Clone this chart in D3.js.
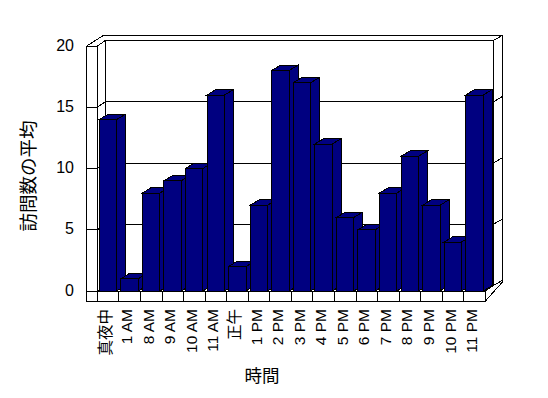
<!DOCTYPE html>
<html>
<head>
<meta charset="utf-8">
<script src="https://cdn.jsdelivr.net/npm/d3@7"></script>
<style>
  body { margin: 0; background: #fff; }
  svg { display: block; }
  text { font-family: "Liberation Sans", "Noto Sans CJK JP", sans-serif; fill: #000; }
</style>
</head>
<body>
<svg id="chart" width="548" height="398"></svg>
<script>
const categories = ["真夜中", "1 AM", "8 AM", "9 AM", "10 AM", "11 AM", "正午", "1 PM", "2 PM", "3 PM",
                    "4 PM", "5 PM", "6 PM", "7 PM", "8 PM", "9 PM", "10 PM", "11 PM"];
const visits = [14, 1, 8, 9, 10, 16, 2, 7, 18, 17, 12, 6, 5, 8, 11, 7, 4, 16];
const yTicks = [0, 5, 10, 15, 20];
const yTitle = "訪問数の平均";
const xTitle = "時間";

const svg = d3.select("#chart");
const navy = "#000080";

// front plane scales
const x = d3.scaleBand().domain(categories).range([97.4, 485.4]);
const y = d3.scaleLinear().domain([0, 20]).range([291, 46]);

// depth offsets
const inner = { dx: 7.7, dy: -5.3 };   // floor / left wall depth
const outer = { dx: 16.6, dy: -10.5 }; // incl. back wall thickness
const barD = { dx: 9, dy: -5.5 };
const xL0 = 86.7, xL1 = 97.4, xR = 485.4, floorBot = 301;

const line = d3.line();
const g = svg.append("g")
    .attr("fill", "none")
    .attr("stroke", "#000")
    .attr("shape-rendering", "crispEdges");

// outer silhouette of the walls and floor
g.append("path")
    .attr("fill", "#fff")
    .attr("d", line([
        [xL0, y(20)], [xL0 + outer.dx, y(20) + outer.dy], [xR + outer.dx, y(20) + outer.dy],
        [xR + outer.dx, y(0) + outer.dy + 2], [xR, floorBot], [xL0, floorBot]
    ]) + "Z");

// left wall front edge and inner corners
g.append("path").attr("d", line([[xL1, y(20)], [xL1, floorBot]]));
g.append("path").attr("d", line([[xL1 + inner.dx, y(20) + inner.dy], [xL1 + inner.dx, y(0) + inner.dy]]));
g.append("path").attr("d", line([[xR + inner.dx, y(20) + inner.dy], [xR + inner.dx, y(0) + inner.dy]]));
g.append("path").attr("d", line([[xR + inner.dx, y(20) + inner.dy], [xR + outer.dx, y(20) + outer.dy]]));
g.append("path").attr("d", line([[xR, y(0)], [xR + inner.dx, y(0) + inner.dy]]));

// gridlines across left wall, back wall and its right edge
yTicks.forEach(v => {
    const yy = y(v);
    g.append("path").attr("d", line([
        [xL0, yy], [xL1, yy], [xL1 + inner.dx, yy + inner.dy],
        [xR + inner.dx, yy + inner.dy], [xR + outer.dx, yy + outer.dy]
    ]));
});

// bars, drawn left to right so each covers its neighbour's side
const bw = x.bandwidth();
const bars = svg.append("g")
    .attr("stroke", "#000")
    .attr("fill", navy)
    .attr("shape-rendering", "crispEdges");

categories.forEach((c, i) => {
    const x0 = x(c) + bw * 0.088;
    const x1 = x0 + bw * 0.807;
    const yt = y(visits[i]);
    const yb = y(0);
    bars.append("path").attr("d", line([
        [x1, yt], [x1 + barD.dx, yt + barD.dy], [x1 + barD.dx, yb + barD.dy], [x1, yb]
    ]) + "Z");
    bars.append("path").attr("d", line([
        [x0, yt], [x0 + barD.dx, yt + barD.dy], [x1 + barD.dx, yt + barD.dy], [x1, yt]
    ]) + "Z");
    bars.append("rect")
        .attr("x", x0).attr("y", yt)
        .attr("width", x1 - x0).attr("height", yb - yt);
});

// floor front face with category dividers
g.append("path").attr("fill", "#fff")
    .attr("d", line([[xL1, y(0)], [xR, y(0)], [xR, floorBot], [xL1, floorBot]]) + "Z");
categories.forEach(c => {
    g.append("path").attr("d", line([[x(c), y(0)], [x(c), floorBot]]));
});

// y tick labels
svg.append("g")
    .selectAll("text")
    .data(yTicks)
    .join("text")
    .attr("x", 74)
    .attr("y", d => y(d) - 1)
    .attr("text-anchor", "end")
    .attr("dominant-baseline", "central")
    .attr("font-size", 16)
    .text(d => d);

// x tick labels, rotated
svg.append("g")
    .selectAll("text")
    .data(categories)
    .join("text")
    .attr("transform", d => "translate(" + (x(d) + bw / 2 - 3) + ",309) rotate(-90)")
    .attr("text-anchor", "end")
    .attr("dominant-baseline", "central")
    .attr("font-size", 15.5)
    .text(d => d);

// axis titles
svg.append("text")
    .attr("transform", "translate(28,176) rotate(-90)")
    .attr("text-anchor", "middle")
    .attr("dominant-baseline", "central")
    .attr("font-size", 18.5)
    .text(yTitle);

svg.append("text")
    .attr("x", 262)
    .attr("y", 376)
    .attr("text-anchor", "middle")
    .attr("dominant-baseline", "central")
    .attr("font-size", 17.5)
    .text(xTitle);
</script>
</body>
</html>
